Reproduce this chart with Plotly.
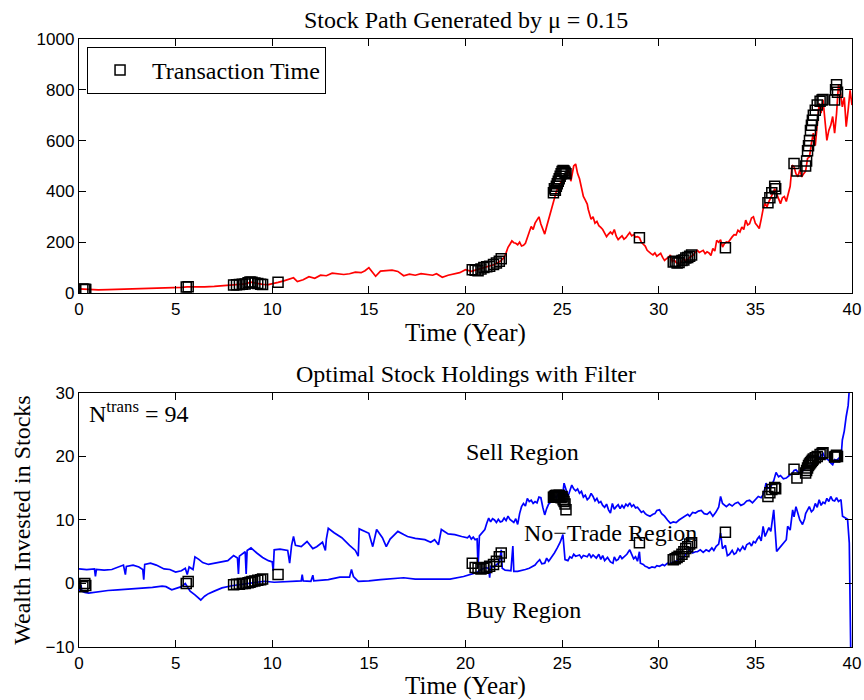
import plotly.graph_objects as go

# ---------------- data ----------------
stock_t = [0.0, 0.3, 0.6, 1.0, 1.5, 2.0, 2.5, 3.0, 3.5, 4.0, 4.5, 5.0, 5.3, 5.6, 6.0, 6.5, 7.0, 7.5,
           8.0, 8.3, 8.6, 8.9, 9.2, 9.5, 9.8, 10.0, 10.3, 10.6, 10.9, 11.1, 11.3, 11.6, 11.9, 12.2,
           12.5, 12.8, 13.1, 13.4, 13.7, 14.0, 14.3, 14.6, 14.8, 15.0, 15.2, 15.35, 15.6, 15.9, 16.2,
           16.5, 16.8, 17.1, 17.4, 17.7, 18.0, 18.3, 18.5, 18.8, 19.1, 19.4, 19.7, 20.0, 20.3, 20.6,
           20.9, 21.2, 21.5, 21.8, 22.0, 22.1, 22.2, 22.3, 22.4, 22.5, 22.6, 22.7, 22.8, 22.9, 23.0,
           23.1, 23.2, 23.3, 23.4, 23.5, 23.6, 23.7, 23.8, 23.9, 24.0, 24.1, 24.2, 24.3, 24.4, 24.5,
           24.6, 24.7, 24.8, 24.9, 25.0, 25.1, 25.2, 25.3, 25.4, 25.45, 25.5, 25.6, 25.7, 25.8, 25.9,
           26.0, 26.1, 26.2, 26.3, 26.35, 26.45, 26.5, 26.6, 26.7, 26.8, 26.9, 27.0, 27.1, 27.2, 27.3,
           27.4, 27.5, 27.6, 27.7, 27.8, 27.9, 28.0, 28.1, 28.2, 28.3, 28.4, 28.5, 28.6, 28.7, 28.8,
           28.9, 29.0, 29.1, 29.2, 29.3, 29.4, 29.5, 29.6, 29.7, 29.8, 29.9, 30.0, 30.1, 30.2, 30.3,
           30.4, 30.5, 30.6, 30.7, 30.8, 30.9, 31.0, 31.1, 31.2, 31.3, 31.4, 31.5, 31.6, 31.7, 31.8,
           31.9, 32.0, 32.1, 32.2, 32.3, 32.4, 32.5, 32.6, 32.7, 32.8, 32.9, 33.0, 33.1, 33.2, 33.3,
           33.4, 33.5, 33.6, 33.7, 33.8, 33.9, 34.0, 34.1, 34.2, 34.3, 34.4, 34.5, 34.6, 34.7, 34.8,
           34.9, 35.0, 35.1, 35.2, 35.3, 35.4, 35.5, 35.6, 35.7, 35.8, 35.9, 36.0, 36.1, 36.2, 36.3,
           36.4, 36.5, 36.6, 36.7, 36.8, 36.9, 37.0, 37.1, 37.2, 37.3, 37.4, 37.5, 37.6, 37.7, 37.8,
           37.9, 38.0, 38.1, 38.2, 38.3, 38.4, 38.5, 38.6, 38.7, 38.8, 38.9, 39.0, 39.1, 39.2, 39.3,
           39.4, 39.5, 39.6, 39.7, 39.8, 39.9, 40.0]
stock_S = [16, 14, 13, 12, 13, 14, 15, 15, 16, 17, 18, 20, 22, 24, 23, 24, 26, 28,
           32, 34, 36, 43, 38, 34, 33, 36, 42, 48, 55, 60, 45, 52, 64, 58,
           70, 68, 78, 74, 73, 76, 82, 80, 88, 100, 82, 66, 86, 88, 90,
           85, 68, 74, 70, 76, 72, 70, 76, 62, 70, 74, 80, 92, 85, 92,
           98, 105, 112, 125, 140, 158, 180, 192, 205, 198, 196, 190, 200, 185, 188,
           196, 215, 240, 262, 250, 275, 290, 300, 272, 250, 232, 262, 290, 320, 350,
           372, 400, 418, 430, 445, 460, 450, 485, 470, 440, 466, 500, 508, 470, 450,
           420, 380, 366, 350, 330, 300, 290, 300, 275, 282, 265, 258, 250, 236, 222,
           232, 240, 232, 250, 224, 210, 218, 225, 212, 218, 228, 238, 225, 230, 220,
           222, 218, 200, 192, 185, 168, 160, 155, 150, 158, 145, 149, 156, 140, 128,
           135, 140, 150, 123, 130, 120, 116, 118, 125, 136, 128, 132, 140, 145, 150,
           162, 168, 160, 165, 168, 155, 162, 158, 148, 175, 165, 207, 200, 210, 181,
           195, 201, 200, 212, 221, 230, 228, 247, 240, 260, 250, 287, 268, 273, 295,
           300, 274, 265, 254, 290, 330, 353, 339, 360, 380, 392, 410, 390, 366, 352,
           375, 380, 360, 392, 420, 503, 497, 470, 458, 485, 457, 470, 480, 530, 536,
           590, 629, 580, 660, 746, 708, 761, 680, 601, 640, 660, 695, 629, 706, 820, 790,
           733, 770, 655, 720, 798, 740, 690]

hold_t_up = [0.0, 0.4, 0.8, 0.85, 0.9, 1.3, 1.7, 2.0, 2.3, 2.4, 2.45, 2.8, 3.1, 3.3, 3.35, 3.4, 3.7,
             4.0, 4.4, 4.7, 5.0, 5.3, 5.5, 5.6, 5.7, 5.9, 6.0, 6.2, 6.4, 6.7, 7.0, 7.4, 7.7, 8.0,
             8.2, 8.25, 8.3, 8.6, 8.65, 8.7, 8.9, 9.2, 9.5, 9.8, 10.0, 10.05, 10.1, 10.4, 10.8,
             10.9, 11.0, 11.1, 11.2, 11.5, 11.8, 12.1, 12.3, 12.6, 12.75, 12.8, 12.9, 13.2, 13.6,
             14.0, 14.3, 14.45, 14.5, 14.8, 15.0, 15.2, 15.4, 15.7, 15.9, 16.1, 16.5, 16.8, 17.0,
             17.4, 17.9, 18.2, 18.4, 18.6, 18.75, 19.1, 19.45, 19.8,
             20.1, 20.2, 20.3, 20.4, 20.5, 20.6, 20.65, 20.72, 20.85, 21.0, 21.1, 21.2, 21.3, 21.4,
             21.5, 21.6, 21.7, 21.8, 21.9, 22.0, 22.1, 22.2, 22.3, 22.4, 22.5, 22.6, 22.7, 22.8,
             22.9, 23.0, 23.1, 23.2, 23.3, 23.4, 23.5, 23.6, 23.7, 23.8, 23.9, 24.0, 24.1, 24.2,
             24.3, 24.4, 24.5, 24.6, 24.7, 24.8, 24.9, 25.0, 25.05, 25.1, 25.2, 25.3, 25.4, 25.5,
             25.6, 25.7, 25.8, 25.9, 26.0, 26.1, 26.2, 26.3, 26.4, 26.5, 26.6, 26.7, 26.8, 26.9,
             27.0, 27.1, 27.2, 27.3, 27.4, 27.5, 27.6, 27.7, 27.8, 27.9, 28.0, 28.1, 28.2, 28.3,
             28.4, 28.5, 28.6, 28.7, 28.8, 28.9, 29.0, 29.1, 29.2, 29.3, 29.4, 29.55, 29.7, 29.8,
             29.9, 30.04, 30.15, 30.3, 30.45, 30.6, 30.75, 30.9, 31.05, 31.2, 31.35, 31.5, 31.6,
             31.75, 31.9, 32.05, 32.2, 32.35, 32.5, 32.65, 32.8, 32.95, 33.1, 33.2, 33.3, 33.5,
             33.65, 33.8, 33.95, 34.1, 34.25, 34.4, 34.55, 34.7, 34.85, 35.0, 35.15, 35.3, 35.4,
             35.5, 35.55, 35.65, 35.8, 35.95, 36.07, 36.2, 36.3, 36.45, 36.6, 36.75, 36.9, 37.0,
             37.1, 37.25, 37.4, 37.55, 37.7, 37.8, 37.95, 38.1, 38.2, 38.3, 38.4, 38.5, 38.6, 38.7,
             38.8, 38.9, 39.0, 39.1, 39.2, 39.35, 39.45, 39.5, 39.6, 39.7, 39.8, 39.86, 39.95]
hold_up = [2.3, 2.2, 2.3, 1.1, 2.2, 2.1, 2.2, 2.6, 2.9, 1.4, 2.7, 2.9, 2.6, 2.2, 0.6, 3.0, 3.2,
           2.9, 2.3, 2.2, 1.8, 2.0, 2.4, 1.4, 2.6, 2.2, 4.2, 3.8, 3.3, 3.0, 3.2, 3.5, 3.6, 4.4,
           4.0, 1.5, 4.3, 5.0, 1.5, 5.2, 5.6, 4.8, 4.1, 3.6, 3.4, 2.0, 5.3, 5.4, 5.2,
           3.2, 6.0, 7.4, 6.0, 5.8, 6.6, 5.5, 5.8, 6.5, 5.2, 7.0, 8.7, 8.0, 7.2,
           6.0, 5.2, 4.3, 8.6, 8.2, 7.9, 5.8, 8.5, 7.2, 5.8, 7.0, 8.2, 7.7, 7.4,
           7.1, 6.9, 6.5, 6.9, 6.1, 8.5, 7.8, 7.7, 7.4,
           7.2, 7.5, 7.0, 7.3, 6.9, 7.0, 2.5, 7.5, 8.0, 8.5, 9.5, 10.3, 9.7, 10.2,
           10.0, 9.6, 10.1, 9.7, 9.8, 10.3, 9.9, 10.6, 10.1, 9.8, 9.6, 10.2, 9.3, 11.0,
           12.1, 12.6, 12.2, 13.4, 12.9, 13.1, 12.6, 12.9, 12.7, 13.6, 13.5, 12.0, 10.8, 11.8,
           12.5, 12.8, 13.3, 13.8, 13.5, 14.2, 13.6, 13.0, 14.5, 15.8, 14.8, 13.7, 14.6, 15.5,
           14.9, 14.6, 14.9, 14.2, 14.5, 13.6, 13.9, 13.2, 13.5, 14.2, 13.7, 13.0, 13.4, 12.7,
           12.9, 12.3, 12.0, 12.5, 11.6, 11.1, 12.6, 11.7, 12.1, 12.4, 11.8, 12.3, 11.9, 12.5,
           12.2, 12.7, 12.1, 12.4, 11.9, 12.0, 11.6, 11.2, 11.4, 11.0, 10.8, 10.6, 10.9, 11.0,
           11.5, 11.6, 11.0, 10.6, 10.0, 9.5, 9.7, 9.6, 10.0, 10.3, 10.6, 10.9, 10.6,
           11.2, 11.1, 11.4, 11.5, 11.0, 10.9, 11.3, 10.6, 11.2, 12.0, 13.7, 12.6, 12.1,
           12.5, 12.2, 12.6, 12.8, 12.3, 12.5, 13.0, 13.1, 12.7, 13.2, 13.7, 13.5, 14.0,
           15.0, 15.8, 15.0, 15.2, 16.2, 17.5, 16.8, 17.0, 16.5, 16.6, 17.0, 17.3, 17.8,
           17.9, 17.4, 17.6, 18.0, 18.4, 18.3, 18.8, 19.4, 19.0, 19.8, 20.1, 20.5, 19.8, 19.6,
           19.4, 19.0, 18.7, 19.5, 19.4, 19.8, 20.5, 22.6, 24.0, 26.3, 28.0, 30.5, 34.0]

hold_t_low = [0.0, 0.1, 0.15, 0.3, 0.5, 0.9, 1.5, 2.0, 2.5, 3.2, 3.8, 4.3, 4.5, 4.8, 5.0, 5.3, 5.5,
              5.75, 6.0, 6.2, 6.3, 6.5, 6.7, 7.0, 7.4, 7.9, 8.3, 8.8, 9.2, 9.6, 10.1, 10.6, 11.2,
              11.5, 11.55, 11.6, 12.0, 12.1, 12.15, 12.9, 13.5, 14.0, 14.1, 14.2, 14.45, 15.0, 15.6,
              16.2, 16.8, 17.4, 17.9, 18.5, 19.2,
              19.9, 20.1, 20.3, 20.45, 20.6, 20.7, 20.8, 20.95, 21.1, 21.2, 21.25, 21.3, 21.45, 21.6,
              21.75, 21.85, 21.9, 22.05, 22.2, 22.35, 22.45, 22.5, 22.7, 22.9, 23.1, 23.3, 23.45,
              23.6, 23.7, 23.84, 23.95, 24.1, 24.2, 24.3, 24.36, 24.5, 24.6, 24.75, 24.9, 25.04,
              25.1, 25.15, 25.3, 25.4, 25.5, 25.6, 25.7, 25.9, 26.0, 26.1, 26.3, 26.4, 26.5, 26.6,
              26.77, 26.9, 27.0, 27.1, 27.2, 27.35, 27.5, 27.63, 27.7, 27.8, 27.9, 28.0, 28.1, 28.2,
              28.35, 28.5, 28.6, 28.7, 28.8, 28.9, 29.0, 29.05, 29.2, 29.3, 29.4, 29.5, 29.65, 29.8,
              29.9, 30.04, 30.2, 30.3, 30.45, 30.56, 30.7, 30.9, 31.05, 31.25, 31.4, 31.6, 31.75,
              31.9, 32.0, 32.15, 32.3, 32.45, 32.6, 32.75, 32.85, 32.97, 33.1, 33.2, 33.3, 33.45,
              33.55, 33.66, 33.8, 33.9, 34.0, 34.1, 34.2, 34.35, 34.45, 34.55, 34.7, 34.8, 34.9,
              35.0, 35.1, 35.2, 35.3, 35.4, 35.5, 35.6, 35.7, 35.8, 35.95, 36.1, 36.25, 36.4, 36.5,
              36.6, 36.67, 36.8, 36.93, 37.0, 37.1, 37.2, 37.3, 37.44, 37.55, 37.6, 37.7, 37.79,
              37.9, 38.0, 38.1, 38.2, 38.3, 38.4, 38.5, 38.6, 38.7, 38.8, 38.9, 39.0, 39.1, 39.2,
              39.3, 39.43, 39.51, 39.6, 39.77, 39.86, 39.94]
hold_low = [-1.3, -0.2, -1.2, -1.4, -1.5, -1.3, -1.1, -1.0, -0.9, -0.7, -0.6, -0.4, -0.5, -1.0, -0.8, -0.5, 0.0,
            -1.2, -1.8, -2.3, -2.6, -2.0, -1.6, -1.2, -0.7, -0.35, -0.2, 0.0, 0.2, 0.35, 0.2, 0.3, 0.35,
            0.4, 1.4, 0.4, 0.35, 1.3, 0.4, 0.6, 1.0, 1.0, 2.2, 1.1, 0.35, 0.4, 0.6,
            0.8, 0.9, 0.7, 0.7, 0.8, 0.7,
            1.1, 1.3, 1.5, 1.6, 1.75, 2.0, 2.2, 2.4, 2.5, 2.3, 0.9, 2.7, 2.6, 2.9,
            3.3, 5.3, 2.4, 2.1, 2.0, 2.0, 5.9, 1.9, 1.9, 2.0, 2.2, 2.4, 2.6,
            2.9, 3.3, 3.75, 3.1, 3.2, 4.0, 3.5, 3.75, 4.3, 4.8, 5.6, 6.5, 7.7,
            5.0, 3.75, 3.6, 4.2, 4.0, 4.6, 4.3, 4.5, 4.0, 4.4, 4.2, 4.7, 4.1, 4.5,
            4.0, 4.6, 3.8, 4.4, 3.6, 4.1, 3.4, 3.2, 4.2, 3.6, 3.8, 4.4, 3.9, 4.2,
            4.6, 5.3, 4.5, 3.9, 4.2, 3.5, 5.0, 3.2, 3.0, 2.7, 2.6, 2.4, 2.6, 2.5,
            2.8, 2.7, 3.0, 2.8, 3.2, 3.1, 3.3, 3.5, 3.8, 4.0, 4.6, 5.3, 4.8,
            5.0, 5.0, 5.3, 4.9, 5.3, 5.06, 5.6, 5.2, 5.85, 6.2, 7.95, 5.5, 6.0,
            4.4, 4.6, 5.2, 4.6, 4.8, 5.5, 5.1, 5.85, 5.3, 6.1, 6.4, 5.9, 6.6,
            6.4, 7.0, 7.4, 6.7, 9.0, 7.4, 8.0, 8.8, 8.2, 11.6, 5.06, 5.6, 6.2, 6.6,
            6.9, 9.0, 8.4, 11.6, 10.5, 12.1, 11.0, 10.0, 9.3, 10.2, 11.0, 11.5, 12.1,
            11.3, 11.6, 12.6, 12.0, 13.2, 12.3, 12.8, 12.6, 13.4, 12.9, 13.7, 13.1, 13.0, 13.5,
            12.9, 13.2, 10.6, 10.4, 10.1, 6.4, -12.0]

trans_t = [0.2, 0.3, 0.35, 5.55, 5.65,
           8.0, 8.15, 8.3, 8.45, 8.6, 8.75, 8.85, 8.95, 9.1, 9.25, 9.4, 9.5, 10.3,
           20.35, 20.5, 20.65, 20.8, 20.95, 21.1, 21.25, 21.45, 21.6, 21.75, 21.85,
           24.55, 24.6, 24.65, 24.7, 24.75, 24.8, 24.85, 24.9, 24.95, 25.0, 25.05, 25.1, 25.15, 25.2,
           29.0, 30.75, 30.85, 30.95, 31.05, 31.2, 31.3, 31.4, 31.5, 31.6, 31.7, 33.45,
           35.65, 35.75, 35.85, 36.0, 36.05, 37.0, 37.15,
           37.6, 37.65, 37.7, 37.75, 37.8, 37.85, 37.9, 37.95, 38.0, 38.1, 38.2, 38.35, 38.45, 38.5,
           39.1, 39.15, 39.2, 39.25]
trans_S = [16, 15, 14, 24, 25,
           32, 33, 34, 35, 36, 40, 43, 42, 39, 37, 35, 34, 42,
           92, 90, 88, 95, 100, 103, 105, 112, 118, 125, 135,
           395, 410, 405, 420, 430, 440, 450, 460, 470, 478, 482, 480, 475, 470,
           218, 122, 125, 118, 120, 128, 130, 138, 140, 145, 150, 178,
           355, 375, 395, 420, 410, 510, 480,
           500, 520, 560, 580, 600, 640, 660, 680, 700, 720, 740, 755, 760, 762,
           760, 800, 820, 790]
trans_H = [-0.5, 0.0, -0.3, 0.0, 0.3,
           -0.2, -0.1, -0.1, 0.0, 0.0, 0.1, 0.2, 0.3, 0.4, 0.5, 0.6, 0.7, 1.4,
           3.2, 2.5, 2.4, 2.3, 2.4, 2.5, 2.7, 3.0, 3.5, 4.2, 4.8,
           13.6, 13.7, 13.8, 13.9, 13.7, 13.8, 13.9, 13.6, 13.5, 13.7, 13.2, 12.9, 12.5, 11.6,
           6.4, 3.75, 3.9, 4.1, 4.3, 4.6, 5.0, 5.5, 5.8, 6.2, 6.4, 8.05,
           13.7, 14.3, 14.8, 15.1, 14.9, 18.0, 16.6,
           17.4, 17.8, 18.2, 18.6, 18.8, 19.0, 19.2, 19.4, 19.6, 19.8, 20.0, 20.3, 20.5, 20.6,
           19.9, 20.0, 20.2, 20.0]

x_ticks = [0, 5, 10, 15, 20, 25, 30, 35, 40]
top_y_ticks = [0, 200, 400, 600, 800, 1000]
bot_y_ticks = [-10, 0, 10, 20, 30]

# ---------------- figure ----------------
SERIF = "Liberation Serif, Times New Roman, serif"
SANS = "Liberation Sans, Arial, sans-serif"
SERIF_SIZE = 24

fig = go.Figure()

fig.add_trace(go.Scatter(x=stock_t, y=stock_S, mode="lines",
                         line=dict(color="#ff0000", width=1.7), showlegend=False,
                         xaxis="x", yaxis="y"))
fig.add_trace(go.Scatter(x=trans_t, y=trans_S, mode="markers", name="Transaction Time",
                         marker=dict(symbol="square-open", size=10, color="black",
                                     line=dict(width=1.5, color="black")),
                         xaxis="x", yaxis="y"))

fig.add_trace(go.Scatter(x=hold_t_up, y=hold_up, mode="lines",
                         line=dict(color="#0000ff", width=1.7), showlegend=False,
                         xaxis="x2", yaxis="y2"))
fig.add_trace(go.Scatter(x=hold_t_low, y=hold_low, mode="lines",
                         line=dict(color="#0000ff", width=1.7), showlegend=False,
                         xaxis="x2", yaxis="y2"))
fig.add_trace(go.Scatter(x=trans_t, y=trans_H, mode="markers", showlegend=False,
                         marker=dict(symbol="square-open", size=10, color="black",
                                     line=dict(width=1.5, color="black")),
                         xaxis="x2", yaxis="y2"))

axis_common = dict(showline=True, linecolor="black", linewidth=1.3, mirror="ticks",
                   ticks="inside", ticklen=7, tickcolor="black", tickwidth=1,
                   showgrid=False, zeroline=False, automargin=False,
                   tickfont=dict(family=SANS, size=17, color="black"))

xtitle = dict(text="Time (Year)", font=dict(family=SERIF, size=25, color="black"),
              standoff=1)

fig.update_layout(
    width=864, height=700,
    margin=dict(l=79, r=12, t=39, b=53),
    paper_bgcolor="white", plot_bgcolor="white",
    xaxis=dict(domain=[0, 1], anchor="y", range=[0, 40], tickvals=x_ticks,
               title=xtitle, **axis_common),
    yaxis=dict(domain=[0.5822, 1], anchor="x", range=[0, 1000], tickvals=top_y_ticks,
               **axis_common),
    xaxis2=dict(domain=[0, 1], anchor="y2", range=[0, 40], tickvals=x_ticks,
                title=xtitle, **axis_common),
    yaxis2=dict(domain=[0, 0.4178], anchor="x2", range=[-10, 30], tickvals=bot_y_ticks,
                title=dict(text="Wealth Invested in Stocks",
                           font=dict(family=SERIF, size=SERIF_SIZE, color="black"), standoff=8),
                **axis_common),
    legend=dict(x=0.0104, y=0.987, xanchor="left", yanchor="top",
                bordercolor="black", borderwidth=1, bgcolor="white",
                font=dict(family=SERIF, size=SERIF_SIZE, color="black"),
                itemwidth=54, tracegroupgap=0),
    annotations=[
        dict(text="Stock Path Generated by \u03bc = 0.15", xref="paper", yref="paper",
             x=0.5, y=1.0, yshift=4, xanchor="center", yanchor="bottom", showarrow=False,
             font=dict(family=SERIF, size=24, color="black")),
        dict(text="Optimal Stock Holdings with Filter", xref="paper", yref="paper",
             x=0.5, y=0.4178, yshift=4, xanchor="center", yanchor="bottom", showarrow=False,
             font=dict(family=SERIF, size=24, color="black")),
        dict(text="N<sup>trans</sup> = 94", xref="x2", yref="y2", x=0.4, y=27.0,
             xanchor="left", yanchor="middle", showarrow=False,
             font=dict(family=SERIF, size=SERIF_SIZE, color="black")),
        dict(text="Sell Region", xref="x2", yref="y2", x=19.9, y=20.7,
             xanchor="left", yanchor="middle", showarrow=False,
             font=dict(family=SERIF, size=SERIF_SIZE, color="black")),
        dict(text="No\u2212Trade Region", xref="x2", yref="y2", x=22.9, y=8.0,
             xanchor="left", yanchor="middle", showarrow=False,
             font=dict(family=SERIF, size=SERIF_SIZE, color="black")),
        dict(text="Buy Region", xref="x2", yref="y2", x=19.9, y=-4.2,
             xanchor="left", yanchor="middle", showarrow=False,
             font=dict(family=SERIF, size=SERIF_SIZE, color="black")),
    ],
)

fig.write_html("out.html")
